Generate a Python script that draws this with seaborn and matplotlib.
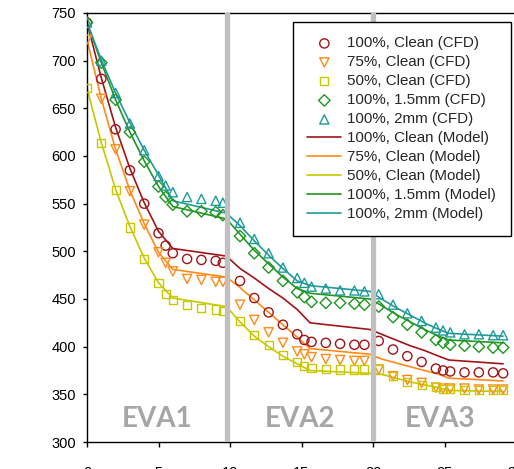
import numpy as np
import pandas as pd
import seaborn as sns
import matplotlib.pyplot as plt

# --- data ---
cfd_x = [0, 1, 2, 3, 4, 5, 5.5, 6, 7, 8, 9, 9.5,
         10.7, 11.7, 12.7, 13.7, 14.7, 15.2, 15.7, 16.7, 17.7, 18.7, 19.4,
         20.4, 21.4, 22.4, 23.4, 24.4, 24.9, 25.4, 26.4, 27.4, 28.4, 29.1]

cfd_100_clean = [740, 681, 628, 585, 550, 519, 506, 498, 492, 491, 490, 488,
                 469, 451, 436, 423, 413, 407, 405, 404, 403, 402, 402,
                 406, 397, 390, 384, 377, 375, 374, 373, 373, 373, 372]
cfd_75_clean = [722, 660, 607, 563, 528, 499, 488, 479, 471, 470, 468, 468,
                444, 428, 415, 404, 395, 392, 389, 387, 386, 385, 385,
                376, 369, 365, 362, 357, 356, 356, 356, 355, 355, 355]
cfd_50_clean = [671, 614, 564, 525, 492, 467, 455, 449, 444, 441, 439, 437,
                427, 412, 402, 391, 384, 380, 378, 377, 376, 376, 376,
                376, 369, 363, 360, 358, 356, 356, 355, 355, 355, 355]
cfd_100_15mm = [740, 698, 659, 625, 594, 568, 557, 549, 542, 542, 541, 538,
                516, 498, 483, 469, 457, 452, 447, 446, 446, 445, 444,
                442, 431, 423, 415, 407, 404, 402, 401, 400, 399, 399]
cfd_100_2mm = [740, 700, 666, 634, 606, 579, 569, 562, 557, 555, 553, 551,
               530, 513, 498, 483, 472, 467, 463, 461, 459, 459, 458,
               455, 444, 435, 427, 420, 417, 415, 413, 413, 412, 412]

model_x = [0, 1, 2, 3, 4, 5, 6, 9.75,
           10.7, 11.7, 12.7, 13.7, 14.7, 15.6, 19.8,
           20.6, 21.6, 22.6, 23.6, 24.6, 25.3, 29.1]

model_100_clean = [740, 682, 630, 587, 551, 521, 503, 495,
                   482, 472, 461, 451, 439, 425, 418,
                   413, 407, 401, 396, 390, 386, 382]
model_75_clean = [722, 660, 607, 564, 529, 499, 481, 473,
                  462, 449, 436, 423, 410, 398, 392,
                  387, 383, 379, 375, 371, 367, 364]
model_50_clean = [671, 614, 565, 526, 493, 467, 451, 442,
                  426, 411, 400, 390, 382, 375, 372,
                  371, 367, 363, 360, 357, 354, 353]
model_100_15mm = [740, 698, 659, 625, 595, 568, 547, 534,
                  518, 501, 487, 473, 461, 456, 450,
                  443, 434, 426, 418, 411, 407, 404]
model_100_2mm = [740, 701, 666, 635, 606, 580, 553, 540,
                 527, 511, 496, 482, 469, 464, 458,
                 450, 441, 433, 425, 418, 414, 411]

series_names = ["100%, Clean", "75%, Clean", "50%, Clean", "100%, 1.5mm", "100%, 2mm"]
cfd_values = [cfd_100_clean, cfd_75_clean, cfd_50_clean, cfd_100_15mm, cfd_100_2mm]
model_values = [model_100_clean, model_75_clean, model_50_clean, model_100_15mm, model_100_2mm]
colors = ["#a01418", "#ff8a1a", "#c8c800", "#1f961f", "#1f9a9a"]
markers = ["o", "v", "s", "D", "^"]

eva_bounds = [9.8, 20]
eva_labels = ["EVA1", "EVA2", "EVA3"]
eva_label_x = [4.9, 14.9, 24.7]

# --- style ---
sns.set_style("white")
plt.rcParams["font.family"] = ["Liberation Sans", "DejaVu Sans"]

fig = plt.figure(figsize=(5.14, 4.69), dpi=100)
ax = fig.add_axes([87 / 514, 27 / 469, 429 / 514, 429 / 469])

for name, vals, c, m in zip(series_names, cfd_values, colors, markers):
    ms = 34 if m in ("s", "D") else 44
    sns.scatterplot(x=cfd_x, y=vals, ax=ax, marker=m, s=ms, color=c,
                    facecolor="none", edgecolor=c, linewidth=1.0,
                    label=f"{name} (CFD)", zorder=3)

for name, vals, c in zip(series_names, model_values, colors):
    sns.lineplot(x=model_x, y=vals, ax=ax, color=c, linewidth=1.2,
                 label=f"{name} (Model)", zorder=2)

# phase boundaries and labels
for b in eva_bounds:
    ax.axvline(b, color="#c0c0c0", linewidth=3.8, zorder=4)
for lab, lx in zip(eva_labels, eva_label_x):
    ax.text(lx, 324, lab, ha="center", va="center", fontsize=20,
            fontweight="bold", color="#a6a6a6", family=["Lato", "DejaVu Sans"])

ax.set_xlim(0, 30)
ax.set_ylim(300, 750)
ax.set_xticks(np.arange(0, 31, 5))
ax.set_yticks(np.arange(300, 751, 50))
ax.tick_params(axis="y", direction="out", length=3, width=1, pad=5,
               labelsize=10.5, colors="black", left=True)
# x tick labels sit mostly below the bottom edge, as in the cropped original
ax.tick_params(axis="x", direction="out", length=3.6, width=1, pad=13.5,
               labelsize=10.5, colors="black", bottom=True)
for sp in ax.spines.values():
    sp.set_color("black")
    sp.set_linewidth(1)
ax.set_xlabel("")
ax.set_ylabel("")

# legend: CFD markers first, then model lines
handles, labels = ax.get_legend_handles_labels()
order = [f"{n} (CFD)" for n in series_names] + [f"{n} (Model)" for n in series_names]
hmap = dict(zip(labels, handles))
leg = ax.legend([hmap[l] for l in order], order, loc="upper left",
                bbox_to_anchor=(0.480, 0.979), borderaxespad=0, fontsize=10.9,
                frameon=True, fancybox=False, edgecolor="black", framealpha=1,
                handlelength=2.25, handletextpad=0.4, labelspacing=0.33,
                borderpad=0.95)
leg.get_frame().set_linewidth(1)
leg.set_zorder(5)

fig.savefig("out.png", dpi=100)
